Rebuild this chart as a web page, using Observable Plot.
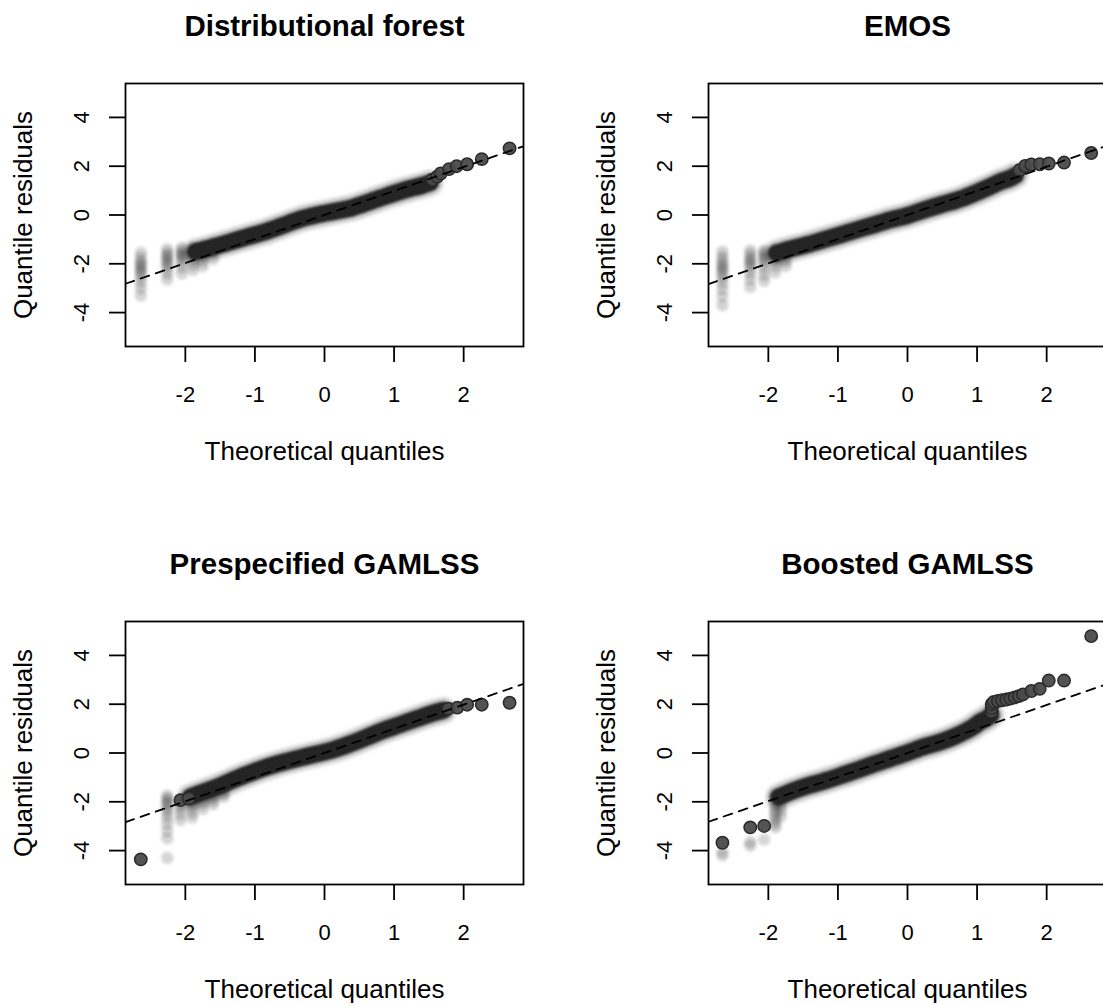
<!DOCTYPE html>
<html><head><meta charset="utf-8">
<script src="https://cdn.jsdelivr.net/npm/d3@7"></script>
<script src="https://cdn.jsdelivr.net/npm/@observablehq/plot@0.6"></script>
<style>
body{margin:0;background:#fff;}
#wrap{position:relative;width:1103px;height:1005px;overflow:hidden;background:#fff;}
.panel{position:absolute;width:583px;height:538px;}
</style></head><body><div id="wrap"></div>
<script>
const titles = ["Distributional forest", "EMOS", "Prespecified GAMLSS", "Boosted GAMLSS"];
const xTicks = [-2, -1, 0, 1, 2];
const yTicks = [-4, -2, 0, 2, 4];
const xLabel = "Theoretical quantiles";
const yLabel = "Quantile residuals";

// Distributional forest
const dfLine = [0, 0.985];
const dfBandX = [-1.85, -1.6, -1.35, -1.1, -0.85, -0.6, -0.35, -0.1, 0.15, 0.4, 0.65, 0.9, 1.15, 1.4, 1.52];
const dfBandY = [-1.50, -1.31, -1.10, -0.89, -0.68, -0.43, -0.17, 0.01, 0.15, 0.30, 0.54, 0.79, 1.02, 1.21, 1.32];
const dfDotX = [1.55, 1.62, 1.67, 1.79, 1.90, 2.05, 2.26, 2.66];
const dfDotY = [1.45, 1.57, 1.70, 1.88, 2.00, 2.08, 2.29, 2.73];
const dfTailX = [-2.64, -2.26, -2.05, -1.89, -1.75, -1.6];
const dfTailY = [
  [-1.55, -1.75, -1.9, -2.0, -2.1, -2.2, -2.3, -2.4, -2.55, -2.75, -3.0, -3.3],
  [-1.4, -1.55, -1.65, -1.75, -1.85, -1.95, -2.05, -2.2, -2.4, -2.65],
  [-1.35, -1.45, -1.55, -1.62, -1.7, -1.8, -1.95, -2.15, -2.4],
  [-1.35, -1.45, -1.52, -1.6, -1.7, -1.85, -2.05, -2.25],
  [-1.3, -1.42, -1.55, -1.7, -1.9, -2.1],
  [-1.2, -1.35, -1.55, -1.8]
];

// EMOS
const emosLine = [0, 0.99];
const emosBandX = [-1.88, -1.69, -1.45, -1.21, -0.97, -0.73, -0.49, -0.25, -0.01, 0.23, 0.47, 0.71, 0.94, 1.18, 1.33, 1.47, 1.55];
const emosBandY = [-1.56, -1.40, -1.22, -1.02, -0.82, -0.61, -0.41, -0.20, -0.03, 0.20, 0.41, 0.61, 0.86, 1.16, 1.36, 1.50, 1.62];
const emosDotX = [1.61, 1.69, 1.78, 1.90, 2.03, 2.25, 2.64];
const emosDotY = [1.84, 2.01, 2.07, 2.08, 2.11, 2.15, 2.54];
const emosTailX = [-2.66, -2.26, -2.06, -1.9, -1.75];
const emosTailY = [
  [-1.5, -1.7, -1.85, -2.0, -2.1, -2.2, -2.3, -2.45, -2.6, -2.8, -3.05, -3.35, -3.7],
  [-1.45, -1.6, -1.75, -1.85, -1.95, -2.05, -2.2, -2.4, -2.65, -2.95],
  [-1.45, -1.55, -1.65, -1.75, -1.85, -2.0, -2.2, -2.45, -2.7],
  [-1.4, -1.5, -1.58, -1.65, -1.75, -1.9, -2.1, -2.35],
  [-1.3, -1.42, -1.55, -1.7, -1.9, -2.1]
];

// Prespecified GAMLSS
const gamLine = [0, 0.99];
const gamBandX = [-1.93, -1.78, -1.54, -1.30, -1.06, -0.82, -0.58, -0.34, -0.10, 0.13, 0.37, 0.61, 0.85, 1.09, 1.33, 1.57, 1.71];
const gamBandY = [-1.80, -1.64, -1.39, -1.09, -0.82, -0.57, -0.37, -0.19, -0.03, 0.14, 0.38, 0.65, 0.93, 1.17, 1.41, 1.64, 1.75];
const gamDotX = [-2.64, -2.07, -1.95, 1.78, 1.91, 2.05, 2.26, 2.66];
const gamDotY = [-4.36, -1.93, -1.86, 1.82, 1.86, 1.98, 1.98, 2.06];
const gamTailX = [-2.26, -2.07, -1.9, -1.75, -1.6, -1.45];
const gamTailY = [
  [-1.75, -1.85, -1.95, -2.05, -2.15, -2.3, -2.45, -2.65, -2.9, -3.2, -3.5, -4.3],
  [-2.0, -2.15, -2.3, -2.5, -2.75],
  [-1.95, -2.1, -2.25, -2.45, -2.65],
  [-1.8, -1.95, -2.1, -2.3],
  [-1.65, -1.8, -1.95, -2.1],
  [-1.5, -1.65, -1.8]
];

// Boosted GAMLSS
const bstLine = [0, 0.985];
const bstBandX = [-1.85, -1.69, -1.45, -1.21, -0.97, -0.73, -0.49, -0.25, -0.01, 0.23, 0.47, 0.71, 0.94, 1.04, 1.14, 1.2];
const bstBandY = [-1.80, -1.60, -1.36, -1.16, -0.94, -0.71, -0.46, -0.23, 0.00, 0.25, 0.45, 0.72, 1.06, 1.27, 1.42, 1.55];
const bstDotX = [1.21, 1.21, 1.21, 1.24, 1.30, 1.36, 1.42, 1.48, 1.54, 1.60, 1.66, 1.78, 1.90, 2.03, 2.25, 2.64, -2.06, -2.26, -2.66];
const bstDotY = [1.70, 1.85, 2.00, 2.09, 2.13, 2.16, 2.19, 2.23, 2.28, 2.33, 2.40, 2.54, 2.63, 2.97, 2.97, 4.79, -2.99, -3.05, -3.68];
const bstTailX = [-2.66, -2.26, -2.06, -1.9, -1.82];
const bstTailY = [
  [-4.05, -4.2],
  [-3.65, -3.8],
  [-3.55],
  [-1.7, -1.85, -2.0, -2.15, -2.3, -2.45, -2.6, -2.75, -2.9, -3.05],
  [-1.75, -1.95, -2.15, -2.35, -2.6]
];

const panels = [
  {title: titles[0], line: dfLine, bandX: dfBandX, bandY: dfBandY, dotX: dfDotX, dotY: dfDotY, tailX: dfTailX, tailY: dfTailY},
  {title: titles[1], line: emosLine, bandX: emosBandX, bandY: emosBandY, dotX: emosDotX, dotY: emosDotY, tailX: emosTailX, tailY: emosTailY},
  {title: titles[2], line: gamLine, bandX: gamBandX, bandY: gamBandY, dotX: gamDotX, dotY: gamDotY, tailX: gamTailX, tailY: gamTailY},
  {title: titles[3], line: bstLine, bandX: bstBandX, bandY: bstBandY, dotX: bstDotX, dotY: bstDotY, tailX: bstTailX, tailY: bstTailY}
];

const xDomain = [-2.86, 2.86];
const yDomain = [-5.39, 5.39];
const font = "'Liberation Sans', Arial, Helvetica, sans-serif";

function panel(p) {
  const tails = p.tailX.flatMap((x, i) => p.tailY[i].map(y => ({x, y})));
  const band = p.bandX.map((x, i) => ({x, y: p.bandY[i]}));
  const dots = p.dotX.map((x, i) => ({x, y: p.dotY[i]}));
  const [a, b] = p.line;
  const ref = xDomain.map(x => ({x, y: a + b * x}));
  return Plot.plot({
    width: 583, height: 538,
    marginLeft: 125, marginRight: 60, marginTop: 83, marginBottom: 192,
    x: {domain: xDomain},
    y: {domain: yDomain},
    style: {fontFamily: font, color: "#000", background: "transparent", overflow: "visible", maxWidth: "none"},
    marks: [
      Plot.dot(tails, {x: "x", y: "y", r: 6.2, fill: "#303030", fillOpacity: 0.2, stroke: "none", clip: true, imageFilter: "blur(1.6px)"}),
      Plot.line(band, {x: "x", y: "y", stroke: "#262626", strokeOpacity: 0.35, strokeWidth: 24, strokeLinecap: "round", strokeLinejoin: "round", curve: "catmull-rom", clip: true, imageFilter: "blur(2px)"}),
      Plot.line(band, {x: "x", y: "y", stroke: "#242424", strokeWidth: 17, strokeLinecap: "round", strokeLinejoin: "round", curve: "catmull-rom", clip: true, imageFilter: "blur(0.8px)"}),
      Plot.dot(dots, {x: "x", y: "y", r: 6.2, fill: "#4a4a4a", fillOpacity: 0.95, stroke: "#2a2a2a", strokeWidth: 1.5, clip: true}),
      Plot.line(ref, {x: "x", y: "y", stroke: "#000", strokeWidth: 1.8, strokeDasharray: "9,7", clip: true}),
      Plot.frame({stroke: "#000", strokeWidth: 1.8}),
      Plot.axisX(xTicks, {tickSize: 16, fill: "none", strokeWidth: 1.8}),
      Plot.axisY(yTicks, {tickSize: 16, fill: "none", strokeWidth: 1.8}),
      Plot.text(xTicks, {x: d => d, text: d => String(d), frameAnchor: "bottom", textAnchor: "middle", lineAnchor: "bottom", dy: 55, fontSize: 22}),
      Plot.text(yTicks, {y: d => d, text: d => String(d), frameAnchor: "left", textAnchor: "middle", lineAnchor: "bottom", rotate: -90, dx: -37, fontSize: 22}),
      Plot.text([xLabel], {frameAnchor: "bottom", textAnchor: "middle", lineAnchor: "bottom", dy: 113, fontSize: 26}),
      Plot.text([yLabel], {frameAnchor: "left", textAnchor: "middle", lineAnchor: "bottom", rotate: -90, dx: -94, fontSize: 26}),
      Plot.text([p.title], {frameAnchor: "top", textAnchor: "middle", lineAnchor: "bottom", dy: -48, fontSize: 29.5, fontWeight: "bold"})
    ]
  });
}

const wrap = document.getElementById("wrap");
const pos = [[0, 0], [583, 0], [0, 538], [583, 538]];
panels.forEach((p, i) => {
  const div = document.createElement("div");
  div.className = "panel";
  div.style.left = pos[i][0] + "px";
  div.style.top = pos[i][1] + "px";
  div.appendChild(panel(p));
  wrap.appendChild(div);
});
</script></body></html>
